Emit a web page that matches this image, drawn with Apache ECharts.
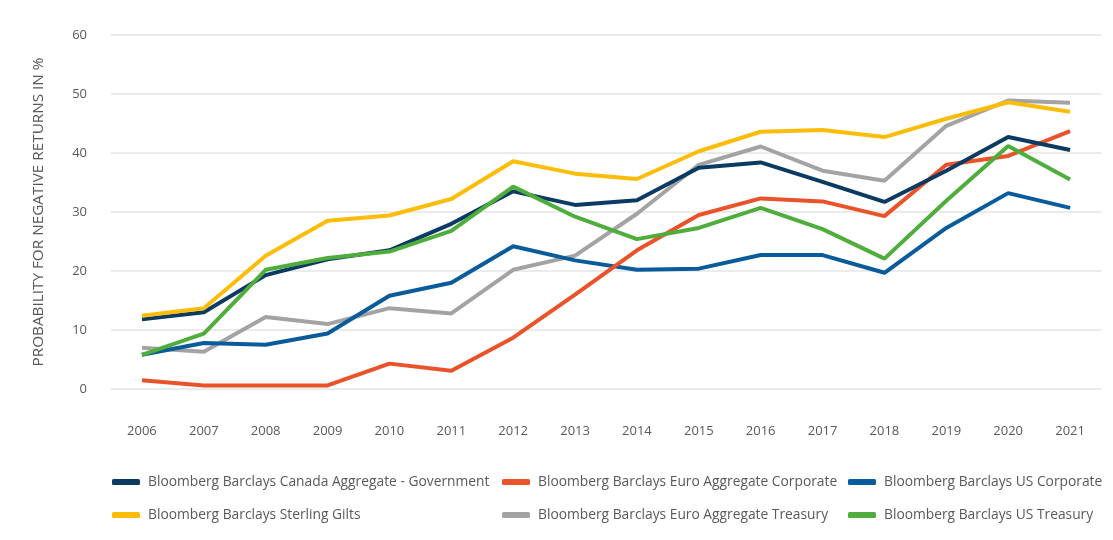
<!DOCTYPE html>
<html><head><meta charset="utf-8">
<script src="https://cdn.jsdelivr.net/npm/echarts@6/dist/echarts.min.js"></script>
<style>html,body{margin:0;padding:0;background:#fff}#c{width:1113px;height:540px}</style>
</head><body><div id="c"></div>
<script>
const years = ['2006','2007','2008','2009','2010','2011','2012','2013','2014','2015','2016','2017','2018','2019','2020','2021'];
const yTicks = [0,10,20,30,40,50,60];
const canadaGov   = [11.8,13.0,19.3,22.0,23.5,28.0,33.5,31.2,32.0,37.5,38.4,35.1,31.7,37.0,42.7,40.5];
const euroCorp    = [1.5,0.6,0.6,0.6,4.3,3.1,8.7,16.0,23.5,29.5,32.3,31.8,29.3,38.0,39.5,43.7];
const usCorp      = [5.8,7.8,7.5,9.4,15.8,18.0,24.2,21.8,20.2,20.4,22.7,22.7,19.7,27.3,33.2,30.7];
const sterling    = [12.4,13.7,22.6,28.5,29.4,32.2,38.6,36.5,35.6,40.3,43.6,43.9,42.7,45.8,48.6,47.0];
const euroTreas   = [7.0,6.3,12.2,11.0,13.7,12.8,20.2,22.6,29.7,38.0,41.1,37.0,35.3,44.6,48.9,48.5];
const usTreas     = [5.8,9.4,20.2,22.2,23.3,26.8,34.3,29.2,25.4,27.3,30.7,27.1,22.1,31.9,41.2,35.5];

const names = [
  'Bloomberg Barclays Canada Aggregate - Government',
  'Bloomberg Barclays Euro Aggregate Corporate',
  'Bloomberg Barclays US Corporate',
  'Bloomberg Barclays Sterling Gilts',
  'Bloomberg Barclays Euro Aggregate Treasury',
  'Bloomberg Barclays US Treasury'
];
const colors = ['#0b3a62','#ea5329','#0a5b9c','#fbbd0a','#a3a3a3','#4fae3b'];
const datas = [canadaGov, euroCorp, usCorp, sterling, euroTreas, usTreas];
const order = [4,2,1,0,5,3];
const legendPos = [[112,475],[502,475],[848,475],[112,508],[502,508],[848,508]];

const font = 'Open Sans';
const txt = '#595959';
const chart = echarts.init(document.getElementById('c'), null, {renderer:'canvas'});
chart.setOption({
  animation:false,
  color: colors,
  textStyle:{fontFamily:font},
  grid:{left:111, right:12, top:35, bottom:151},
  legend: names.map((n,i)=>({
    data:[n], left:legendPos[i][0], top:legendPos[i][1],
    icon:'roundRect', itemWidth:28, itemHeight:6, itemGap:0,
    textStyle:{fontFamily:font, fontSize:13.8, color:txt, padding:[0,0,0,3]},
    padding:0
  })),
  xAxis:{
    type:'category', data:years, boundaryGap:true,
    axisLine:{show:false}, axisTick:{show:false},
    axisLabel:{color:txt, fontSize:13, margin:36, fontFamily:font}
  },
  yAxis:{
    type:'value', min:yTicks[0], max:yTicks[yTicks.length-1], interval:10,
    name:'PROBABILITY FOR NEGATIVE RETURNS IN %', nameLocation:'middle', nameGap:65,
    nameTextStyle:{color:txt, fontSize:15.3, fontFamily:font},
    axisLine:{show:false}, axisTick:{show:false},
    axisLabel:{color:txt, fontSize:13, margin:24, fontFamily:font},
    splitLine:{lineStyle:{color:'#e3e6e6', width:1.5}}
  },
  series: order.map(i=>({
    name:names[i], type:'line', data:datas[i], symbol:'none',
    lineStyle:{width:4, color:colors[i]}, itemStyle:{color:colors[i]}, z:2+order.indexOf(i)
  }))
});
</script></body></html>
